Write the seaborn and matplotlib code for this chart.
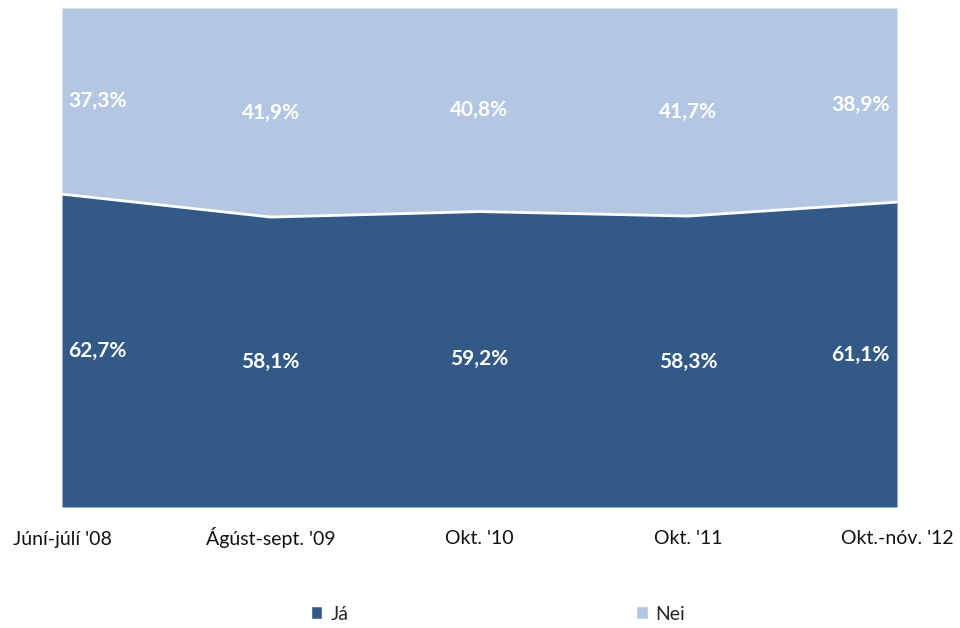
import matplotlib
matplotlib.use("Agg")
import matplotlib.pyplot as plt
import seaborn as sns
import numpy as np
import pandas as pd
from matplotlib.patches import Patch

# Gögn lesin af myndinni
periods = ["Júní-júlí '08", "Ágúst-sept. '09", "Okt. '10", "Okt. '11", "Okt.-nóv. '12"]
ja = [62.7, 58.1, 59.2, 58.3, 61.1]
nei = [37.3, 41.9, 40.8, 41.7, 38.9]

DARK = "#335A87"
LIGHT = "#B3C7E2"

sns.set_theme(style="white")
plt.rcParams["font.family"] = ["Lato", "DejaVu Sans"]

df = pd.DataFrame({"idx": np.arange(len(periods)), "Já": ja, "Nei": nei})

fig = plt.figure(figsize=(9.6, 6.28), dpi=100)
ax = fig.add_axes([62 / 960, 1 - 507 / 628, (897 - 62) / 960, (507 - 8) / 628])

ax.stackplot(df["idx"], df["Já"], df["Nei"], colors=[DARK, LIGHT], linewidth=0)
sns.lineplot(data=df, x="idx", y="Já", color="white", linewidth=2, ax=ax)

ax.set_xlim(0, len(periods) - 1)
ax.set_ylim(0, 100)
ax.set_yticks([])
ax.set_xticks(df["idx"])
ax.set_xticklabels(periods, fontsize=14, color="#111111")
for lbl in ax.get_xticklabels():
    lbl.set_va("baseline")
ax.tick_params(axis="x", length=0, pad=27)
ax.set_xlabel("")
ax.set_ylabel("")
for s in ax.spines.values():
    s.set_visible(False)

# Gildi á svæðunum
n = len(periods)
for i in range(n):
    if i == 0:
        ha, dx = "left", 0.03
    elif i == n - 1:
        ha, dx = "right", -0.035
    else:
        ha, dx = "center", 0
    ax.text(i + dx, ja[i] / 2, f"{ja[i]:.1f}%".replace(".", ","), ha=ha, va="center",
            color="white", fontsize=15, fontweight="bold")
    ax.text(i + dx, ja[i] + nei[i] / 2, f"{nei[i]:.1f}%".replace(".", ","), ha=ha, va="center",
            color="white", fontsize=15, fontweight="bold")

handles = [Patch(facecolor=DARK, label="Já"), Patch(facecolor=LIGHT, label="Nei")]
fig.legend(handles=handles, loc="center", bbox_to_anchor=(0.5 + 18 / 960, 1 - 614 / 628), ncol=2,
           frameon=False, fontsize=14, handlelength=0.6, handleheight=0.6,
           handletextpad=0.4, columnspacing=14.8)

fig.savefig("out.png", dpi=100)
